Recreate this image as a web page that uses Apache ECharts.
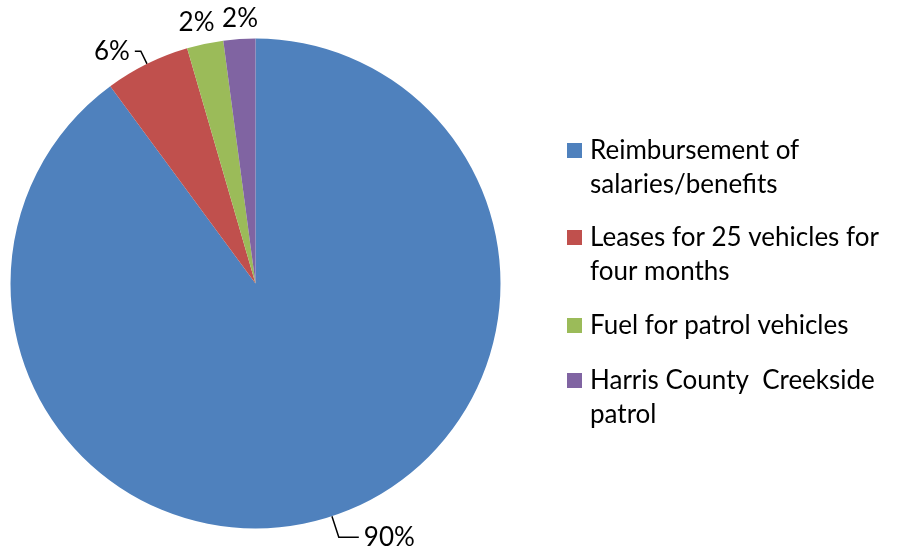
<!DOCTYPE html>
<html>
    <head>
        <meta charset="utf-8">
        <script src="https://cdn.jsdelivr.net/npm/echarts@6/dist/echarts.min.js"></script>
    </head>
    <body>
        <style>
            html, body, #main {
                width: 100%;
                height: 100%;
                margin: 0;
                background: #fff;
            }
        </style>
        <div id="main"></div>
        <script>
            // chart data
            var names = [
                'Reimbursement of salaries/benefits',
                'Leases for 25 vehicles for four months',
                'Fuel for patrol vehicles',
                'Harris County Creekside patrol'
            ];
            var legendLabels = [
                'Reimbursement of\nsalaries/benefits',
                'Leases for 25 vehicles for\nfour months',
                'Fuel for patrol vehicles',
                'Harris County  Creekside\npatrol'
            ];
            var shares = [89.9, 5.6, 2.4, 2.1];
            var colors = ['#4F81BD', '#C0504D', '#9BBB59', '#8064A2'];

            var chart = echarts.init(document.getElementById('main'));

            var font = 'Lato, "Liberation Sans", sans-serif';
            var lineH = 34;
            var iconTops = [143, 230, 318, 373];

            // one legend per entry; a blank leading line keeps the marker on the first text line
            var legends = names.map(function (n, i) {
                var twoLine = legendLabels[i].indexOf('\n') >= 0;
                return {
                    data: [n],
                    orient: 'vertical',
                    left: 567,
                    top: iconTops[i] - (twoLine ? 1.5 * lineH - 7.5 : 0.5 * lineH - 7.5),
                    padding: 0,
                    icon: 'rect',
                    itemWidth: 15,
                    itemHeight: 15,
                    selectedMode: false,
                    formatter: function () {
                        return twoLine ? '\n' + legendLabels[i] : legendLabels[i];
                    },
                    textStyle: {
                        fontFamily: font,
                        fontSize: 26,
                        lineHeight: lineH,
                        color: '#000',
                        padding: [0, 0, 0, 3]
                    }
                };
            });

            var lineLen = [[22, 20], [14, 6], [22, 0], [20, 0]];
            var labelDist = [5, 5, -14, -20];

            var option = {
                animation: false,
                color: colors,
                legend: legends,
                series: [{
                    type: 'pie',
                    center: [255.5, 283.5],
                    radius: 245,
                    startAngle: 90,
                    clockwise: true,
                    avoidLabelOverlap: false,
                    emphasis: { disabled: true },
                    itemStyle: { borderWidth: 0 },
                    label: {
                        show: true,
                        position: 'outside',
                        fontFamily: font,
                        fontSize: 26,
                        color: '#000',
                        formatter: function (p) { return Math.round(p.percent) + '%'; }
                    },
                    labelLine: {
                        lineStyle: { color: '#000', width: 1.5 }
                    },
                    data: names.map(function (n, i) {
                        return {
                            name: n,
                            value: shares[i],
                            label: { distanceToLabelLine: labelDist[i] },
                            labelLine: {
                                show: i < 2,
                                length: lineLen[i][0],
                                length2: lineLen[i][1]
                            }
                        };
                    })
                }]
            };

            chart.setOption(option);
            window.onresize = chart.resize;
        </script>
    </body>
</html>
